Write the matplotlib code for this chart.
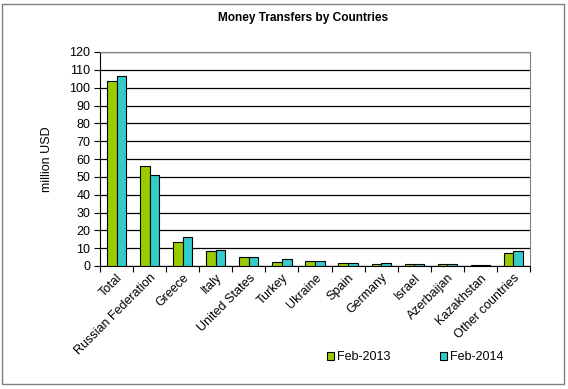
import matplotlib
matplotlib.use("Agg")
import matplotlib.pyplot as plt
import numpy as np
from matplotlib.patches import Rectangle

plt.rcParams['font.family'] = ['Liberation Sans', 'DejaVu Sans']

categories = ["Total", "Russian Federation", "Greece", "Italy", "United States", "Turkey",
              "Ukraine", "Spain", "Germany", "Israel", "Azerbaijan", "Kazakhstan", "Other countries"]
feb2013 = [103.7, 55.8, 13.5, 8.5, 5.1, 2.4, 2.8, 1.7, 1.3, 1.1, 1.1, 0.4, 7.3]
feb2014 = [106.5, 51.3, 16.3, 9.2, 5.1, 3.9, 2.8, 1.7, 1.7, 1.1, 1.1, 0.4, 8.5]
yticks = list(range(0, 121, 10))

W, H = 568, 389
fig = plt.figure(figsize=(W/100, H/100), dpi=100)
ax = fig.add_axes([100/W, 1-266/H, 430/W, 214/H])

x = np.arange(len(categories))
bw = 0.29
ax.bar(x - bw/2, feb2013, bw, color='#99CC00', edgecolor='black', linewidth=0.8, label='Feb-2013', zorder=3)
ax.bar(x + bw/2, feb2014, bw, color='#33CCCC', edgecolor='black', linewidth=0.8, label='Feb-2014', zorder=3)

ax.set_xlim(-0.5, len(categories) - 0.5)
ax.set_ylim(0, 120)
ax.set_yticks(yticks)
ax.set_yticklabels([str(v) for v in yticks], fontsize=9)
ax.yaxis.grid(True, color='black', linewidth=0.9, zorder=0)
ax.set_axisbelow(True)

ax.set_xticks(np.arange(len(categories) + 1) - 0.5, minor=False)
ax.set_xticklabels([])
ax.set_xticks(x, minor=True)
ax.set_xticklabels(categories, minor=True, rotation=45, ha='right', rotation_mode='anchor', fontsize=9)
ax.tick_params(axis='x', which='minor', length=0, pad=4)
ax.tick_params(axis='x', which='major', length=4, direction='out', width=0.8)
ax.tick_params(axis='y', length=4, direction='out', width=0.8, pad=3)

ax.spines['top'].set_color('#808080')
ax.spines['right'].set_color('#808080')
ax.spines['left'].set_color('black')
ax.spines['bottom'].set_color('black')

ax.set_ylabel('million USD', fontsize=9, labelpad=12)
fig.text(303/W, 1-18/H, 'Money Transfers by Countries', ha='center', va='center',
         fontsize=8.6, fontweight='bold')

fig.legend(loc='center', bbox_to_anchor=(415/W, 1-357/H), ncol=2, frameon=False,
           fontsize=9, handlelength=0.6, handleheight=0.6, columnspacing=4.0, handletextpad=0.2)

fig.patches.append(Rectangle((2/W, 5/H), 562/W, 380/H, transform=fig.transFigure,
                             fill=False, edgecolor='#808080', linewidth=1))

fig.savefig('out.png', dpi=100)
